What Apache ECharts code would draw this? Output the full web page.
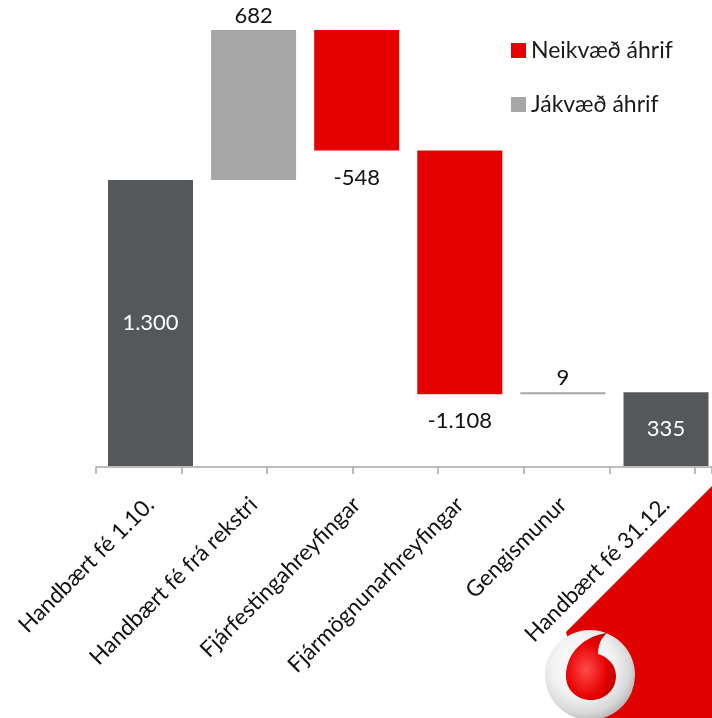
<!DOCTYPE html>
<html><head><meta charset="utf-8">
<script src="https://cdn.jsdelivr.net/npm/echarts@6/dist/echarts.min.js"></script>
<style>html,body{margin:0;padding:0;background:#fff}#c{width:712px;height:718px}</style>
</head><body><div id="c"></div>
<script>
const categories = ['Handbært fé 1.10.', 'Handbært fé frá rekstri', 'Fjárfestingahreyfingar', 'Fjármögnunarhreyfingar', 'Gengismunur', 'Handbært fé 31.12.'];
const values = [1300, 682, -548, -1108, 9, 335];
const kinds = ['total', 'pos', 'neg', 'neg', 'pos', 'total'];
const legendNames = ['Neikvæð áhrif', 'Jákvæð áhrif'];

function fmt(v) {
  const s = Math.abs(v).toString().replace(/\B(?=(\d{3})+(?!\d))/g, '.');
  return (v < 0 ? '-' : '') + s;
}

const base = [], totalD = [], posD = [], negD = [];
let running = 0;
values.forEach((v, i) => {
  const k = kinds[i];
  if (k === 'total') {
    base.push(0); totalD.push(v); posD.push('-'); negD.push('-'); running = v;
  } else if (k === 'pos') {
    base.push(running); posD.push(v); totalD.push('-'); negD.push('-'); running += v;
  } else {
    running += v; base.push(running); negD.push(-v); totalD.push('-'); posD.push('-');
  }
});

const FONT = 'Lato';
const labelFmt = p => fmt(values[p.dataIndex]);

const dropSvg = '<svg xmlns="http://www.w3.org/2000/svg" width="50" height="67" viewBox="566 633 50 67">' +
  '<defs><radialGradient id="g" cx="0.4" cy="0.55" r="0.7"><stop offset="0" stop-color="#ff4a4a"/><stop offset="0.6" stop-color="#e60000"/><stop offset="1" stop-color="#a80000"/></radialGradient></defs>' +
  '<path fill="url(#g)" d="M607,633 C585,636 566,652 566,676 C566,690 577,700 591,700 C605,700 616,690 616,676 C616,664 606,656 598,654 C598,645 601,638 607,633 Z"/></svg>';
const dropUrl = 'data:image/svg+xml;charset=utf-8,' + encodeURIComponent(dropSvg);

const chart = echarts.init(document.getElementById('c'));
chart.setOption({
  animation: false,
  backgroundColor: '#ffffff',
  textStyle: { fontFamily: FONT },
  grid: [
    { left: 150.5, width: 515.5, top: 26, bottom: 252 },
    { left: 96, width: 616, top: 26, bottom: 251 }
  ],
  legend: {
    data: legendNames,
    orient: 'vertical',
    left: 511, top: 39,
    itemWidth: 15, itemHeight: 15, itemGap: 31,
    icon: 'rect', padding: 0,
    textStyle: { fontSize: 23, lineHeight: 23, color: '#1a1a1a', fontFamily: FONT }
  },
  xAxis: [
    {
      type: 'category', data: categories, gridIndex: 0, z: 5, boundaryGap: false,
      axisLine: { show: false }, axisTick: { show: false },
      axisLabel: { rotate: 45, margin: 35, fontSize: 22.5, color: '#111', fontFamily: FONT, interval: 0 }
    },
    {
      type: 'value', gridIndex: 1, min: 0, max: 7.2, interval: 1,
      axisLine: { show: true, lineStyle: { color: '#a6a6a6', width: 1.5 } },
      axisTick: { show: true, length: 7, lineStyle: { color: '#a6a6a6', width: 1.5 } },
      axisLabel: { show: false }, splitLine: { show: false }
    }
  ],
  yAxis: [
    { type: 'value', gridIndex: 0, min: 0, max: 2000, show: false, splitLine: { show: false } },
    { type: 'value', gridIndex: 1, min: 0, max: 1, show: false, splitLine: { show: false } }
  ],
  series: [
    { type: 'bar', name: 'base', stack: 'w', data: base, barWidth: 85, itemStyle: { color: 'transparent' }, silent: true },
    { type: 'bar', name: 'Heild', stack: 'w', data: totalD, barWidth: 85, itemStyle: { color: '#54585a' },
      label: { show: true, position: 'inside', color: '#ffffff', fontSize: 22, fontFamily: FONT, formatter: labelFmt } },
    { type: 'bar', name: 'Jákvæð áhrif', stack: 'w', data: posD, barWidth: 85, itemStyle: { color: '#a6a6a6' },
      label: { show: true, position: 'top', distance: 3, color: '#111', fontSize: 22, fontFamily: FONT, formatter: labelFmt } },
    { type: 'bar', name: 'Neikvæð áhrif', stack: 'w', data: negD, barWidth: 85, itemStyle: { color: '#e60000' },
      label: { show: true, position: 'bottom', distance: 16, color: '#111', fontSize: 22, fontFamily: FONT, formatter: labelFmt } },
    { type: 'line', xAxisIndex: 1, yAxisIndex: 1, data: [], silent: true, showSymbol: false }
  ],
  graphic: [
    { type: 'polygon', z: -10, silent: true, shape: { points: [[712, 486], [566, 632], [590, 718], [712, 718]] }, style: { fill: '#e00000' } },
    { type: 'circle', z: -9, silent: true, shape: { cx: 590, cy: 675, r: 45 },
      style: { fill: { type: 'radial', x: 0.42, y: 0.4, r: 0.62, colorStops: [
        { offset: 0, color: '#ffffff' }, { offset: 0.55, color: '#f2f2f2' }, { offset: 0.85, color: '#d8d8d8' }, { offset: 1, color: '#b9b9b9' } ] } } },
    { type: 'image', z: -8, silent: true, left: 566, top: 633, style: { image: dropUrl, width: 50, height: 67 } }
  ]
});
</script>
</body></html>
